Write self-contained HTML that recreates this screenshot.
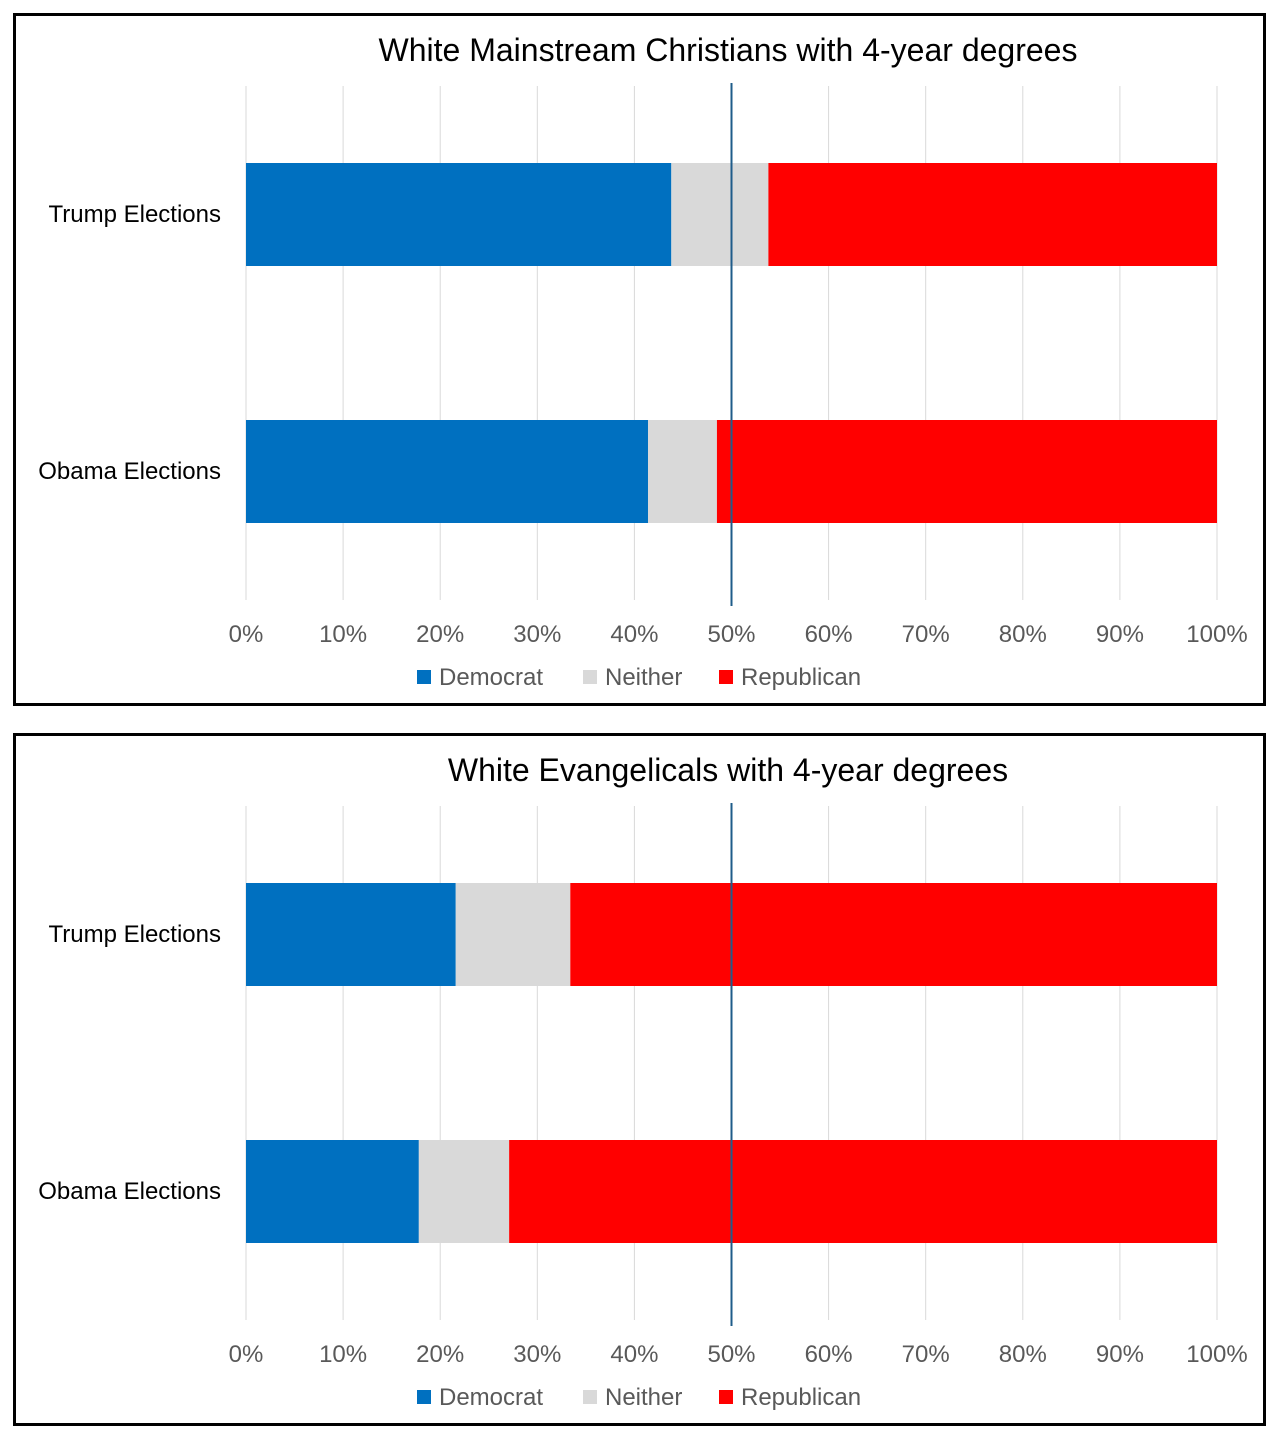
<!DOCTYPE html>
<html><head><meta charset="utf-8"><style>
body{margin:0;background:#fff;width:1280px;height:1440px;overflow:hidden}
svg{display:block}
text{font-family:"Liberation Sans",sans-serif}
</style></head><body>
<svg id="c" width="1280" height="1440"></svg>
<script>
const categories=["Trump Elections","Obama Elections"];
const titles=["White Mainstream Christians with 4-year degrees","White Evangelicals with 4-year degrees"];
const demMain=[43.8,41.4];
const neiMain=[10.0,7.1];
const repMain=[46.2,51.5];
const demEvan=[21.6,17.8];
const neiEvan=[11.8,9.3];
const repEvan=[66.6,72.9];
const ticks=["0%","10%","20%","30%","40%","50%","60%","70%","80%","90%","100%"];
const seriesNames=["Democrat","Neither","Republican"];
const colors=["#0070C0","#D9D9D9","#FF0000"];
const refLine=50;
const NS="http://www.w3.org/2000/svg";
const svg=document.getElementById('c');
function mk(t,a,p){const e=document.createElementNS(NS,t);for(const k in a)e.setAttribute(k,a[k]);(p||svg).appendChild(e);return e;}
const x=v=>246+v*9.71;
const panels=[[demMain,neiMain,repMain],[demEvan,neiEvan,repEvan]];
panels.forEach((ser,pi)=>{
  const off=pi*720;
  const g=mk('g',{});
  
  
  const b=mk('rect',{x:14.5,y:14.5+off,width:1250,height:690,fill:'none',stroke:'#000','stroke-width':3},g);
  
  const t=mk('text',{x:728,y:61+off,'text-anchor':'middle','font-size':32,fill:'#000'},g);t.textContent=titles[pi];
  
  ticks.forEach((tk,i)=>{
    const l=mk('line',{x1:x(i*10),x2:x(i*10),y1:86+off,y2:600+off,stroke:'#D9D9D9','stroke-width':1},g);
    
    const tt=mk('text',{x:x(i*10),y:642+off,'text-anchor':'middle','font-size':24,fill:'#595959'},g);tt.textContent=tk;
    
  });
  categories.forEach((c,ci)=>{
    const y0=163+ci*257+off;
    const ct=mk('text',{x:221,y:y0+59,'text-anchor':'end','font-size':24,fill:'#000'},g);ct.textContent=c;
    
    let acc=0;
    ser.forEach((s,si)=>{
      const r=mk('rect',{x:x(acc),y:y0,width:x(acc+s[ci])-x(acc),height:103,fill:colors[si]},g);
      
      
      acc+=s[ci];
    });
  });
  const rl=mk('line',{x1:x(refLine),x2:x(refLine),y1:83+off,y2:606+off,stroke:'#1F5C8A','stroke-width':2},g);
  
  const lx=[417,583,719];
  seriesNames.forEach((n,i)=>{
    const r=mk('rect',{x:lx[i],y:670+off,width:14,height:14,fill:colors[i]},g);
    
    const lt=mk('text',{x:lx[i]+22,y:685+off,'font-size':24,fill:'#595959'},g);lt.textContent=n;
    
  });
});
</script>
</body></html>
